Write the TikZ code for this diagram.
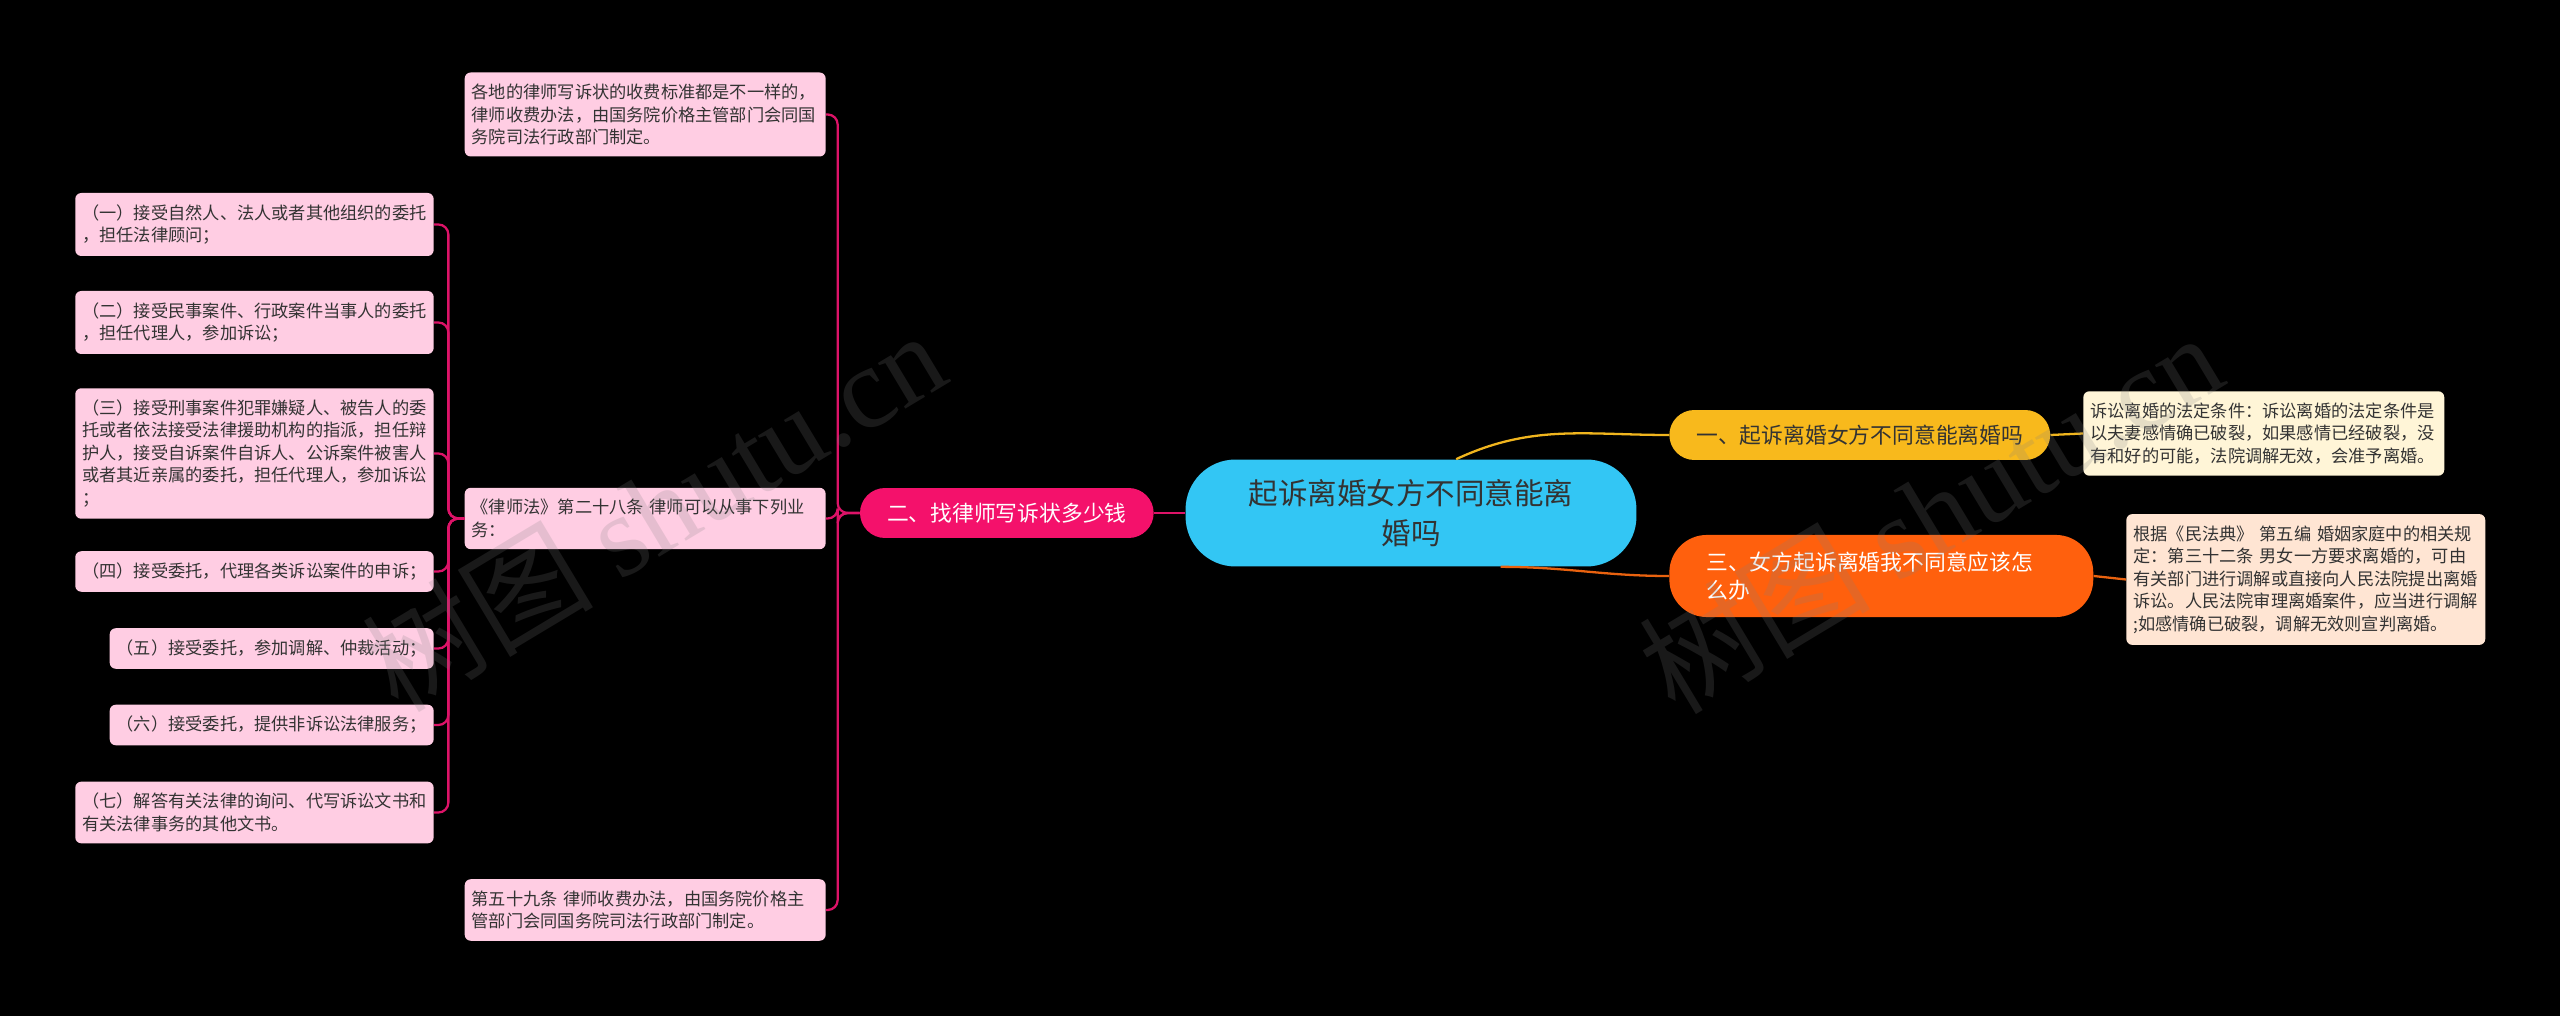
\documentclass[tikz,border=0pt]{standalone}
\usepackage{fontspec}
\setmainfont{Noto Sans CJK SC}
\newfontfamily\wmfont{Liberation Serif}
\usetikzlibrary{calc}
\definecolor{rootBlue}{HTML}{33C6F4}
\definecolor{oneYellow}{HTML}{F8B91C}
\definecolor{twoPink}{HTML}{F4116B}
\definecolor{threeOrange}{HTML}{FF600D}
\definecolor{leafPink}{HTML}{FFCDE3}
\definecolor{leafCream}{HTML}{FFF5D7}
\definecolor{leafPeach}{HTML}{FFE5D3}
\definecolor{linePink}{HTML}{DD1368}
\definecolor{lineYellow}{HTML}{F0B51E}
\definecolor{lineOrange}{HTML}{E9620F}
\definecolor{txtDark}{HTML}{333333}
\tikzset{
  every node/.style={text=txtDark},
  rootbox/.style={fill=rootBlue, rounded corners=1cm, minimum width=9.02cm, minimum height=2.14cm, align=center, font=\fontsize{16.8}{23}\selectfont},
  topicbox/.style={rounded corners=0.5cm, inner xsep=0.54cm, minimum height=1cm, font=\fontsize{12.4}{15.8}\selectfont},
  leafbox/.style={rounded corners=0.12cm, inner xsep=0.14cm, inner ysep=0.23cm, align=left, font=\fontsize{9.8}{12.8}\selectfont},
  pinkline/.style={draw=linePink, line width=1.3pt},
  yelline/.style={draw=lineYellow, line width=1.3pt},
  orgline/.style={draw=lineOrange, line width=1.3pt},
  wmark/.style={text=gray, opacity=0.2, font=\fontsize{66}{66}\selectfont},
}
\begin{document}
\begin{tikzpicture}[x=0.02cm,y=-0.02cm]
  \path[use as bounding box, fill=black] (0,0) rectangle (2560,1016);

  % centre and main topics
  \node[rootbox] (root) at (1411,513) {起诉离婚女方不同意能离\\婚吗};
  \node[topicbox, fill=oneYellow, anchor=west] (q1) at (1669,435) {一、起诉离婚女方不同意能离婚吗};
  \node[topicbox, fill=twoPink, text=white, anchor=east] (q2) at (1154,513) {二、找律师写诉状多少钱};
  \node[topicbox, fill=threeOrange, text=white, anchor=west, text width=7cm, inner xsep=0.74cm, inner ysep=0.34cm, rounded corners=0.75cm, align=left] (q3) at (1669,576) {三、女方起诉离婚我不同意应该怎\\么办};

  % right leaves
  \node[leafbox, fill=leafCream, text width=6.94cm, anchor=west] (a1) at (2083,433.5) {诉讼离婚的法定条件：诉讼离婚的法定条件是\\以夫妻感情确已破裂，如果感情已经破裂，没\\有和好的可能，法院调解无效，会准予离婚。};
  \node[leafbox, fill=leafPeach, text width=6.9cm, anchor=west] (a3) at (2126,579.5) {根据《民法典》 第五编 婚姻家庭中的相关规\\定：第三十二条 男女一方要求离婚的，可由\\有关部门进行调解或直接向人民法院提出离婚\\诉讼。人民法院审理离婚案件，应当进行调解\\;如感情确已破裂，调解无效则宣判离婚。};

  % left leaves
  \node[leafbox, fill=leafPink, text width=6.94cm, anchor=east] (l1) at (826,114.5) {各地的律师写诉状的收费标准都是不一样的，\\律师收费办法，由国务院价格主管部门会同国\\务院司法行政部门制定。};
  \node[leafbox, fill=leafPink, text width=6.94cm, anchor=east] (l2) at (826,518.5) {《律师法》第二十八条 律师可以从事下列业\\务：};
  \node[leafbox, fill=leafPink, text width=6.94cm, anchor=east] (l3) at (826,910) {第五十九条 律师收费办法，由国务院价格主\\管部门会同国务院司法行政部门制定。};

  \node[leafbox, fill=leafPink, anchor=east] (s1) at (434,224.5) {（一）接受自然人、法人或者其他组织的委托\\，担任法律顾问；};
  \node[leafbox, fill=leafPink, anchor=east] (s2) at (434,322.5) {（二）接受民事案件、行政案件当事人的委托\\，担任代理人，参加诉讼；};
  \node[leafbox, fill=leafPink, anchor=east] (s3) at (434,453.5) {（三）接受刑事案件犯罪嫌疑人、被告人的委\\托或者依法接受法律援助机构的指派，担任辩\\护人，接受自诉案件自诉人、公诉案件被害人\\或者其近亲属的委托，担任代理人，参加诉讼\\；};
  \node[leafbox, fill=leafPink, anchor=east] (s4) at (434,571.5) {（四）接受委托，代理各类诉讼案件的申诉；};
  \node[leafbox, fill=leafPink, anchor=east] (s5) at (434,648.5) {（五）接受委托，参加调解、仲裁活动；};
  \node[leafbox, fill=leafPink, anchor=east] (s6) at (434,725) {（六）接受委托，提供非诉讼法律服务；};
  \node[leafbox, fill=leafPink, anchor=east] (s7) at (434,812.5) {（七）解答有关法律的询问、代写诉讼文书和\\有关法律事务的其他文书。};

  % connectors
  \draw[pinkline] (root.west) -- (q2.east);
  \draw[yelline] (root.50) to[out=25,in=180] (q1.west);
  \draw[orgline] (root.-31) to[out=0,in=180] (q3.west);
  \draw[yelline] (q1.east) -- (a1.west);
  \draw[orgline] (q3.east) -- (a3.west);
  \foreach \v in {l1,l2,l3}{\draw[pinkline, rounded corners=0.2cm] (q2.west) -- ++(-22,0) |- (\v.east);}
  \foreach \i in {1,...,7}{\draw[pinkline, rounded corners=0.2cm] (l2.west) -- ++(-16,0) |- (s\i.east);}

  % watermark
  \node[wmark, rotate=31] (wm1) at (653,510) {树图 {\wmfont shutu.cn}};
  \node[wmark, rotate=31] (wm2) at (1930,512) {树图 {\wmfont shutu.cn}};
\end{tikzpicture}
\end{document}
